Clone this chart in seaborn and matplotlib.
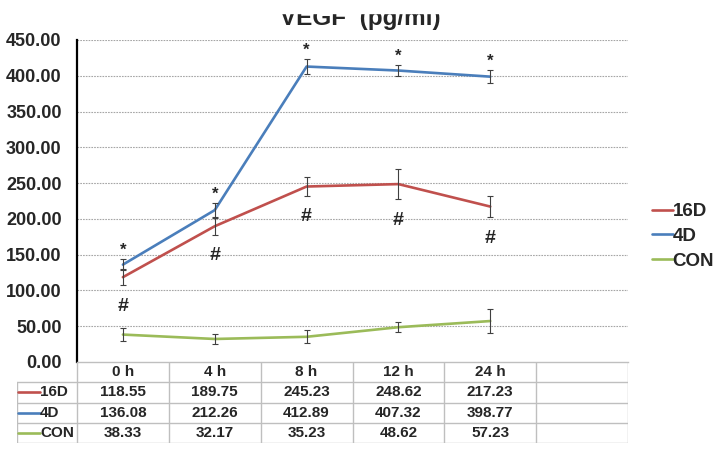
import numpy as np
import pandas as pd
import matplotlib.pyplot as plt
import seaborn as sns
from matplotlib.patches import Rectangle

# data
times = ['0 h', '4 h', '8 h', '12 h', '24 h']
groups = ['16D', '4D', 'CON']
vals_16d = [118.55, 189.75, 245.23, 248.62, 217.23]
vals_4d = [136.08, 212.26, 412.89, 407.32, 398.77]
vals_con = [38.33, 32.17, 35.23, 48.62, 57.23]
err_16d = [11, 12, 13, 21, 15]
err_4d = [8, 10, 10, 8, 9.5]
err_con = [9, 7.5, 9, 7, 16.5]
yticks = [0, 50, 100, 150, 200, 250, 300, 350, 400, 450]

colors = {'16D': '#C0504D', '4D': '#4A7EBB', 'CON': '#9BBB59'}
vals = {'16D': vals_16d, '4D': vals_4d, 'CON': vals_con}
errs = {'16D': err_16d, '4D': err_4d, 'CON': err_con}

df = pd.DataFrame({
    'pos': list(range(len(times))) * 3,
    'value': vals_16d + vals_4d + vals_con,
    'group': [g for g in groups for _ in times],
})

sns.set_style('white')
plt.rcParams['font.family'] = ['Liberation Sans', 'DejaVu Sans']
plt.rcParams['font.weight'] = 'bold'

W, H = 720, 451
fig = plt.figure(figsize=(7.2, 4.51), dpi=100)
x0, x1, y0, y1 = 77, 628, 40, 362
ax = fig.add_axes([x0 / W, 1 - y1 / H, (x1 - x0) / W, (y1 - y0) / H])

sns.lineplot(data=df, x='pos', y='value', hue='group', palette=colors,
             hue_order=groups, linewidth=1.9, ax=ax, legend=False, zorder=3)
for g in groups:
    ax.errorbar(range(len(times)), vals[g], yerr=errs[g], fmt='none',
                ecolor='#404040', elinewidth=0.8, capsize=2, capthick=0.8, zorder=4)

# significance marks
for i in range(len(times)):
    ax.annotate('*', (i, vals_4d[i] + err_4d[i]), xytext=(0, 3), textcoords='offset points',
                ha='center', va='baseline', fontsize=12, fontweight='bold')
    ax.annotate('#', (i, vals_16d[i] - err_16d[i]), xytext=(0, -9), textcoords='offset points',
                ha='center', va='top', fontsize=14, fontweight='bold')

ax.set_xlim(-0.5, 5.5)
ax.set_ylim(0, 450)
ax.set_yticks(yticks)
ax.set_yticklabels([f'{t:.2f}' for t in yticks], fontsize=13, fontweight='bold')
ax.set_xticks([])
ax.tick_params(axis='y', length=0, pad=11)
ax.set_xlabel('')
ax.set_ylabel('')
for t in yticks[1:]:
    ax.axhline(t, color='#A6A6A6', lw=0.8, ls=(0, (1.5, 1)), zorder=1)
for s in ['top', 'right']:
    ax.spines[s].set_visible(False)
ax.spines['left'].set_color('black')
ax.spines['left'].set_linewidth(1.6)
ax.spines['bottom'].set_color('#BFBFBF')
ax.spines['bottom'].set_linewidth(1)

# legend
handles = [plt.Line2D([], [], color=colors[g], lw=1.9) for g in groups]
ax.legend(handles, groups, loc='center left', bbox_to_anchor=(1.03, 0.39), frameon=False,
          borderaxespad=0, handlelength=1.1, handletextpad=0.0, labelspacing=0.4,
          prop={'size': 13.5, 'weight': 'bold'})

# data table under the plot
unit = (x1 - x0) / 6
tleft = -0.5 - (x0 - 17) / unit
tab = fig.add_axes([17 / W, 1 - 443 / H, (x1 - 17) / W, (443 - y1) / H])
tab.set_xlim(tleft, 5.5)
tab.set_ylim(4, 0)
tab.axis('off')
gc = '#BFBFBF'
for r in [1, 2, 3, 4]:
    tab.plot([tleft, 5.5], [r, r], color=gc, lw=1)
for c in np.arange(-0.5, 6.0, 1.0):
    tab.plot([c, c], [0, 4], color=gc, lw=1)
tab.plot([tleft, tleft], [1, 4], color=gc, lw=1)
for i, t in enumerate(times):
    tab.text(i, 0.5, t, ha='center', va='center', fontsize=11, fontweight='bold')
for r, g in enumerate(groups):
    yy = r + 1.5
    tab.plot([tleft + 0.01, tleft + 0.25], [yy, yy], color=colors[g], lw=1.9)
    tab.text(tleft + 0.25, yy, g, ha='left', va='center', fontsize=11, fontweight='bold')
    for i, v in enumerate(vals[g]):
        tab.text(i, yy, f'{v:.2f}', ha='center', va='center', fontsize=11, fontweight='bold')

# title, with its top cut off as in the source image
fig.text(0.5, 1 - 25 / H, 'VEGF  (pg/ml)', ha='center', va='baseline',
         fontsize=17.5, fontweight='bold')
fig.add_artist(Rectangle((0.3, 1 - 12.5 / H), 0.4, 12.5 / H, transform=fig.transFigure,
                         color='white', zorder=10))

fig.savefig('out.png', dpi=100)
